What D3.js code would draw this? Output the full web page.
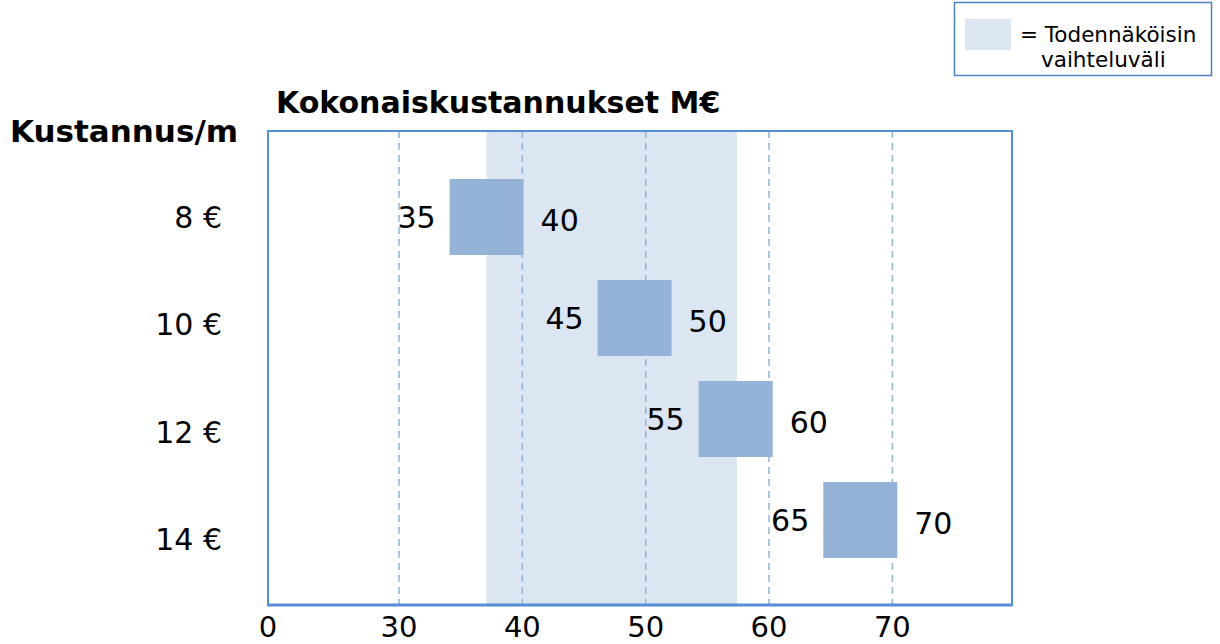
<!DOCTYPE html>
<html>
<head>
<meta charset="utf-8">
<script src="https://cdn.jsdelivr.net/npm/d3@7"></script>
<style>
  body { margin: 0; background: #fff; }
  text { font-family: Verdana, "DejaVu Sans", sans-serif; fill: #000; }
</style>
</head>
<body>
<svg id="chart" width="1220" height="644"></svg>
<script>
// cost per metre categories
const categories = ["8 €", "10 €", "12 €", "14 €"];
// total cost box ranges (M€)
const boxStart = [34.1, 46.1, 54.3, 64.4];
const boxEnd = [40.1, 52.1, 60.3, 70.4];
const lowLabels = ["35", "45", "55", "65"];
const highLabels = ["40", "50", "60", "70"];
// most probable range band
const band = [37.1, 57.4];
const xTicks = [0, 30, 40, 50, 60, 70];
const gridTicks = [30, 40, 50, 60, 70];

const svg = d3.select("#chart");
const plotLeft = 268, plotRight = 1012, plotTop = 131, plotBottom = 605;

// axis is broken between 0 and 30
const x = d3.scaleLinear()
  .domain([0, 30, 79.7])
  .range([plotLeft, 399, plotRight]);

const yBox = d3.scalePoint()
  .domain(categories)
  .range([217, 520]);

const yLab = d3.scalePoint()
  .domain(categories)
  .range([218, 540]);

// band
svg.append("rect")
  .attr("x", x(band[0]))
  .attr("y", plotTop)
  .attr("width", x(band[1]) - x(band[0]))
  .attr("height", plotBottom - plotTop)
  .attr("fill", "#dce6f2");

// dashed gridlines
svg.append("g")
  .selectAll("line")
  .data(gridTicks)
  .join("line")
  .attr("x1", d => x(d)).attr("x2", d => x(d))
  .attr("y1", plotTop).attr("y2", plotBottom)
  .attr("stroke", "#95b3d7")
  .attr("stroke-width", 1.5)
  .attr("stroke-dasharray", "7,5");

// boxes
const rows = categories.map((c, i) => ({ c, s: boxStart[i], e: boxEnd[i], lo: lowLabels[i], hi: highLabels[i] }));
const boxH = 76;

svg.append("g")
  .selectAll("rect")
  .data(rows)
  .join("rect")
  .attr("x", d => x(d.s))
  .attr("y", d => yBox(d.c) - boxH / 2)
  .attr("width", d => x(d.e) - x(d.s))
  .attr("height", boxH)
  .attr("fill", "#95b3d7");

svg.append("g")
  .selectAll("text")
  .data(rows)
  .join("text")
  .attr("x", d => x(d.s) - 14)
  .attr("y", d => yBox(d.c) + 11)
  .attr("text-anchor", "end")
  .attr("font-size", 30)
  .text(d => d.lo);

svg.append("g")
  .selectAll("text")
  .data(rows)
  .join("text")
  .attr("x", d => x(d.e) + 17)
  .attr("y", d => yBox(d.c) + 14)
  .attr("font-size", 30)
  .text(d => d.hi);

// frame: left, top, right and thicker bottom
svg.append("path")
  .attr("d", `M${plotLeft},${plotBottom}V${plotTop}H${plotRight}V${plotBottom}`)
  .attr("fill", "none")
  .attr("stroke", "#558ed5")
  .attr("stroke-width", 2);

svg.append("line")
  .attr("x1", plotLeft - 1).attr("x2", plotRight + 1)
  .attr("y1", plotBottom).attr("y2", plotBottom)
  .attr("stroke", "#558ed5")
  .attr("stroke-width", 3);

// x tick labels
svg.append("g")
  .selectAll("text")
  .data(xTicks)
  .join("text")
  .attr("x", d => x(d))
  .attr("y", 637)
  .attr("text-anchor", "middle")
  .attr("font-size", 29)
  .text(d => d);

// y category labels
svg.append("g")
  .selectAll("text")
  .data(categories)
  .join("text")
  .attr("x", 222)
  .attr("y", d => yLab(d) + 10)
  .attr("text-anchor", "end")
  .attr("font-size", 30)
  .text(d => d);

// titles
svg.append("text")
  .attr("x", 276).attr("y", 113)
  .attr("font-size", 30)
  .attr("font-weight", "bold")
  .text("Kokonaiskustannukset M€");

svg.append("text")
  .attr("x", 10).attr("y", 142)
  .attr("font-size", 31)
  .attr("font-weight", "bold")
  .text("Kustannus/m");

// legend
const lg = svg.append("g");
lg.append("rect")
  .attr("x", 954.5).attr("y", 2.5)
  .attr("width", 257).attr("height", 73)
  .attr("fill", "#fff")
  .attr("stroke", "#4f81bd")
  .attr("stroke-width", 1.5);
lg.append("rect")
  .attr("x", 965).attr("y", 19)
  .attr("width", 46).attr("height", 31)
  .attr("fill", "#dce6f2");
lg.append("text")
  .attr("x", 1020).attr("y", 42)
  .attr("font-size", 21.5)
  .text("= Todennäköisin");
lg.append("text")
  .attr("x", 1041).attr("y", 67)
  .attr("font-size", 21.5)
  .text("vaihteluväli");
</script>
</body>
</html>
